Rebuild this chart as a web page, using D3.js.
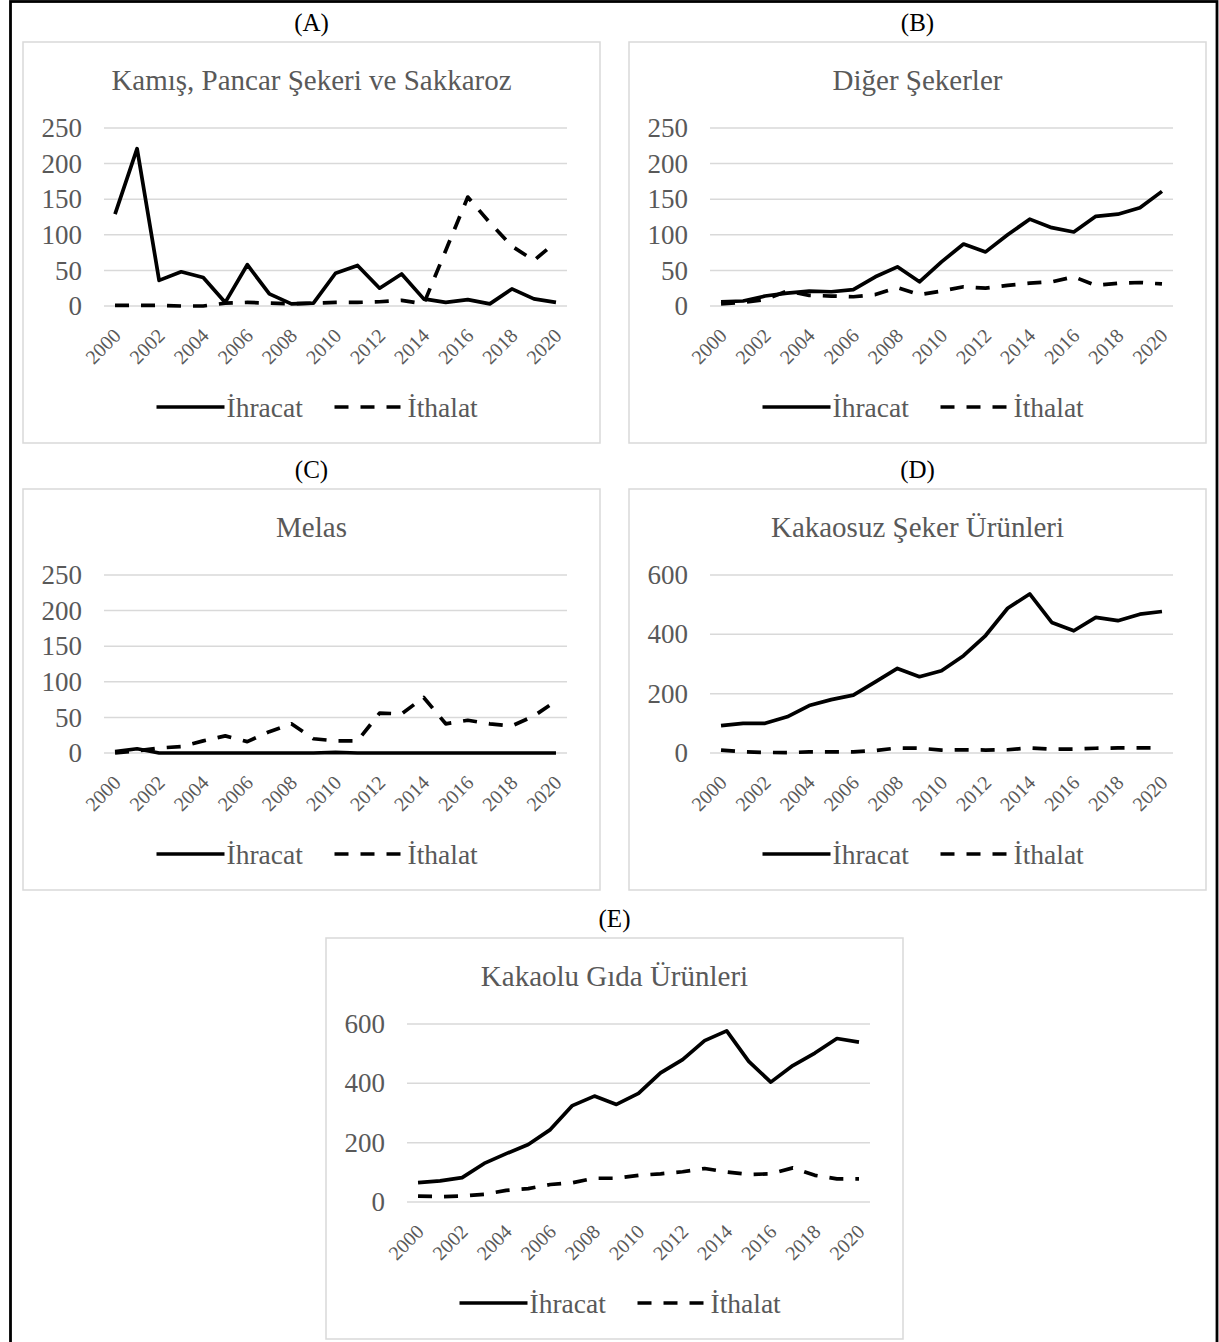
<!DOCTYPE html>
<html lang="tr">
<head>
  <meta charset="UTF-8">
  <title>Şeker ürünleri ihracat / ithalat</title>
  <script src="https://d3js.org/d3.v7.min.js"></script>
  <style>
    body { margin: 0; background: #fff; }
    svg { display: block; font-family: "Liberation Serif", "Times New Roman", serif; }
  </style>
</head>
<body>
  <div id="chart"></div>
  <script>
    // yıllar (x ekseni)
    const years = d3.range(2000, 2021);
    const yearTicks = d3.range(2000, 2021, 2);
    const seriesNames = ["İhracat", "İthalat"];

    // (A) Kamış, Pancar Şekeri ve Sakkaroz
    const aIhracat = [129, 221, 36, 48, 40, 5, 58, 17, 3, 4, 46, 57, 25, 45, 10, 5, 9, 3, 24, 10, 5];
    const aIthalat = [1, 1, 1, 0, 0, 4, 5, 4, 3, 4, 5, 5, 6, 8, 3, 78, 153, 117, 84, 64, 90];
    // (B) Diğer Şekerler
    const bIhracat = [6, 7, 14, 18, 21, 20, 23, 41, 55, 34, 62, 87, 76, 100, 122, 110, 104, 126, 129, 138, 161];
    const bIthalat = [3, 5, 9, 21, 15, 14, 13, 16, 26, 16, 21, 27, 25, 29, 32, 34, 41, 29, 32, 33, 31];
    // (C) Melas
    const cIhracat = [2, 6, 0, 0, 0, 0, 0, 0, 0, 0, 1, 0, 0, 0, 0, 0, 0, 0, 0, 0, 0];
    const cIthalat = [0, 3, 7, 9, 17, 24, 16, 30, 41, 20, 17, 17, 56, 55, 78, 41, 46, 41, 38, 52, 73];
    // (D) Kakaosuz Şeker Ürünleri
    const dIhracat = [92, 100, 100, 122, 160, 180, 195, 240, 285, 257, 277, 328, 396, 488, 536, 440, 412, 457, 446, 468, 477];
    const dIthalat = [10, 4, 2, 1, 4, 4, 4, 8, 17, 16, 10, 11, 10, 11, 17, 13, 13, 16, 17, 17, 17];
    // (E) Kakaolu Gıda Ürünleri
    const eIhracat = [65, 71, 82, 130, 163, 194, 244, 325, 357, 329, 366, 435, 480, 544, 577, 474, 404, 460, 502, 551, 539];
    const eIthalat = [20, 18, 20, 26, 39, 45, 59, 65, 80, 80, 90, 95, 102, 113, 101, 93, 95, 115, 90, 78, 78];

    const ticks250 = [0, 50, 100, 150, 200, 250];
    const ticks600 = [0, 200, 400, 600];

    const panels = [
      { tag: "(A)", title: "Kamış, Pancar Şekeri ve Sakkaroz", x: 23, y: 42, ticks: ticks250, series: [aIhracat, aIthalat] },
      { tag: "(B)", title: "Diğer Şekerler", x: 629, y: 42, ticks: ticks250, series: [bIhracat, bIthalat] },
      { tag: "(C)", title: "Melas", x: 23, y: 489, ticks: ticks250, series: [cIhracat, cIthalat] },
      { tag: "(D)", title: "Kakaosuz Şeker Ürünleri", x: 629, y: 489, ticks: ticks600, series: [dIhracat, dIthalat] },
      { tag: "(E)", title: "Kakaolu Gıda Ürünleri", x: 326, y: 938, ticks: ticks600, series: [eIhracat, eIthalat] }
    ];

    const W = 1219, H = 1342;
    const boxW = 577, boxH = 401;
    const plotL = 81, plotR = 544, plotT = 86, plotB = 264;
    const grey = "#595959";
    const dashes = ["none", "14,12"];
    const serif = "Liberation Serif, Times New Roman, serif";

    const svg = d3.select("#chart").append("svg")
      .attr("width", W)
      .attr("height", H);

    // dış çerçeve
    svg.append("rect")
      .attr("x", 10.5).attr("y", 1.5)
      .attr("width", 1206.5).attr("height", H + 10)
      .attr("fill", "none")
      .attr("stroke", "#000")
      .attr("stroke-width", 2.8);

    const x = d3.scaleBand().domain(years).range([plotL, plotR]).padding(0);
    const xc = d => x(d) + x.bandwidth() / 2;

    panels.forEach(p => {
      const g = svg.append("g").attr("transform", `translate(${p.x},${p.y})`);

      // panel harfi
      g.append("text")
        .attr("x", boxW / 2).attr("y", -20)
        .attr("dy", "0.35em")
        .attr("text-anchor", "middle")
        .attr("font-size", 25)
        .attr("fill", "#000")
        .text(p.tag);

      g.append("rect")
        .attr("x", 0).attr("y", 0)
        .attr("width", boxW).attr("height", boxH)
        .attr("fill", "#fff")
        .attr("stroke", "#d9d9d9")
        .attr("stroke-width", 1.5);

      g.append("text")
        .attr("x", boxW / 2).attr("y", 38)
        .attr("dy", "0.35em")
        .attr("text-anchor", "middle")
        .attr("font-size", 29)
        .attr("fill", grey)
        .text(p.title);

      const y = d3.scaleLinear()
        .domain([0, d3.max(p.ticks)])
        .range([plotB, plotT]);

      // yatay kılavuz çizgileri
      g.append("g")
        .selectAll("line")
        .data(p.ticks)
        .join("line")
        .attr("x1", plotL).attr("x2", plotR)
        .attr("y1", d => y(d)).attr("y2", d => y(d))
        .attr("stroke", "#d9d9d9")
        .attr("stroke-width", 1.5);

      // y ekseni
      const yAxis = g.append("g")
        .attr("transform", `translate(${plotL - 22},0)`)
        .call(d3.axisLeft(y).tickValues(p.ticks).tickSize(0).tickPadding(0));
      yAxis.select(".domain").remove();
      yAxis.selectAll("text")
        .attr("font-family", serif)
        .attr("font-size", 27)
        .attr("fill", grey);

      // x ekseni
      const xAxis = g.append("g")
        .attr("transform", `translate(0,${plotB})`)
        .call(d3.axisBottom(x).tickValues(yearTicks).tickSize(0).tickPadding(0));
      xAxis.select(".domain").remove();
      xAxis.selectAll("text")
        .attr("font-family", serif)
        .attr("font-size", 20)
        .attr("fill", grey)
        .attr("text-anchor", "end")
        .attr("dy", "0.35em")
        .attr("y", 0)
        .attr("transform", "translate(2,26) rotate(-45)");

      // çizgiler
      const line = d3.line()
        .x((d, i) => xc(years[i]))
        .y(d => y(d));

      g.append("g")
        .selectAll("path")
        .data(p.series)
        .join("path")
        .attr("d", d => line(d))
        .attr("fill", "none")
        .attr("stroke", "#000")
        .attr("stroke-width", 3.7)
        .attr("stroke-linejoin", "round")
        .attr("stroke-dasharray", (d, i) => dashes[i]);

      // lejant
      const lg = g.append("g").attr("transform", `translate(${boxW / 2},365)`);
      const items = [{ x1: -155, x2: -87, tx: -85 }, { x1: 23, x2: 93, tx: 96 }];
      items.forEach((it, i) => {
        lg.append("line")
          .attr("x1", it.x1).attr("x2", it.x2)
          .attr("y1", 0).attr("y2", 0)
          .attr("stroke", "#000")
          .attr("stroke-width", 3.7)
          .attr("stroke-dasharray", dashes[i]);
        lg.append("text")
          .attr("x", it.tx).attr("y", 0)
          .attr("dy", "0.35em")
          .attr("font-size", 27.5)
          .attr("fill", grey)
          .text(seriesNames[i]);
      });
    });
  </script>
</body>
</html>
